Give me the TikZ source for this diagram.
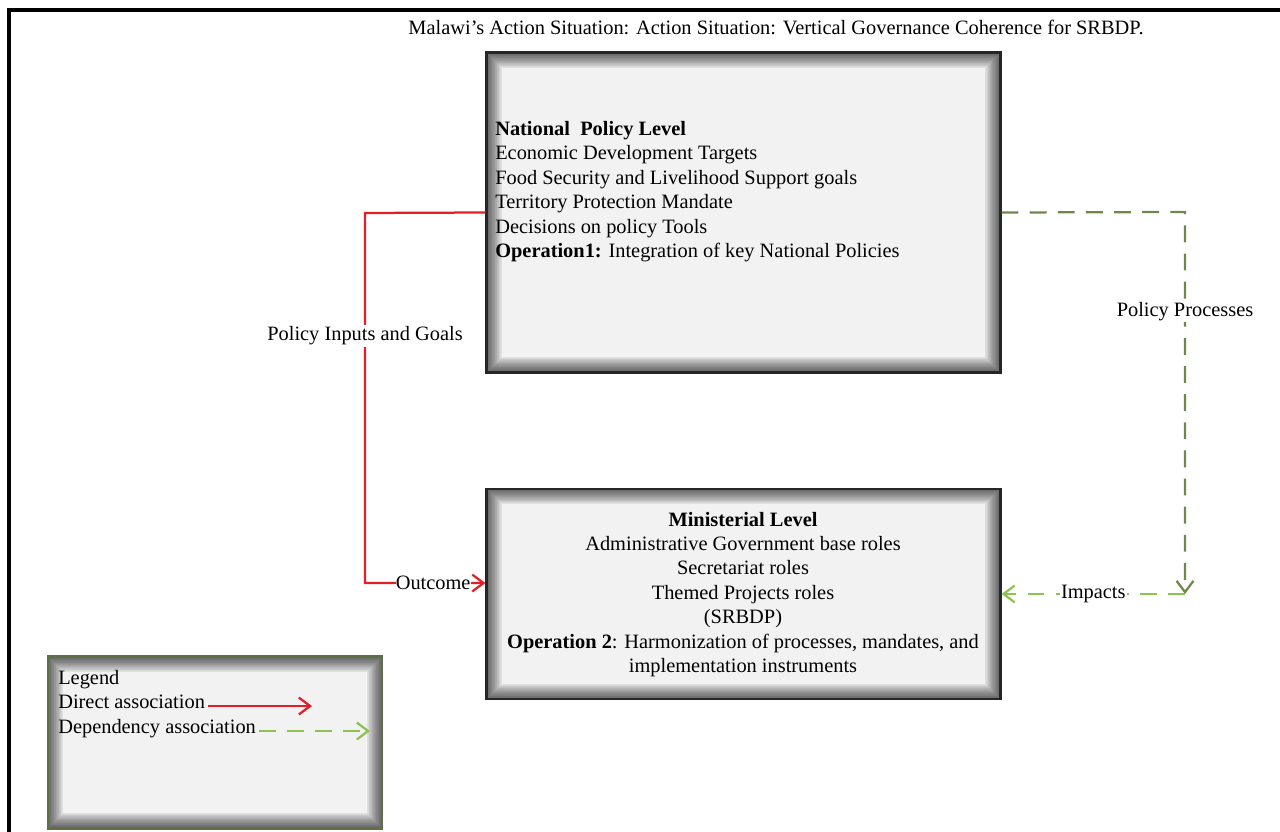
\documentclass[tikz,border=0pt]{standalone}
\usepackage{fontspec}
\setmainfont{Liberation Serif}
\usetikzlibrary{arrows.meta, positioning, calc}
\definecolor{redLine}{HTML}{E41E26}
\definecolor{darkDep}{HTML}{6E874B}
\definecolor{lightDep}{HTML}{8CC350}
\definecolor{legBorder}{HTML}{5E6E45}
\definecolor{boxFill}{HTML}{F2F2F2}

\begin{document}
\begin{tikzpicture}[x=0.025cm, y=-0.025cm,
    every node/.style={font=\fontsize{14.5}{17.4}\selectfont},
    caja/.style={draw=black!85, line width=2pt, fill=boxFill, inner sep=0pt,
                 minimum width=12.83cm,
                 path picture={
                   \foreach \w in {22,21,...,1}
                     \draw[line width=\w pt, black, opacity=0.035]
                       (path picture bounding box.south west) rectangle
                       (path picture bounding box.north east);}},
    txt/.style={inner sep=0pt, align=left},
    lbl/.style={fill=white, inner sep=1pt, text=black},
    direct/.style={-{Straight Barb[length=8pt, width=12pt]}, line width=1.6pt, color=redLine},
    dep/.style={-{Straight Barb[length=8pt, width=12pt]}, line width=1.6pt,
                dash pattern=on 12pt off 8pt}]
    \useasboundingbox (0,0) rectangle (1280,832);
    \draw[line width=2.2pt] (9,832) -- (9,10) -- (1280,10);
    \node (tit) at (776,27) {Malawi’s Action Situation: Action Situation: Vertical Governance Coherence for SRBDP.};
    % levels
    \node[caja, minimum height=7.98cm] (nat) at (743.5,212.5) {};
    \node[txt, anchor=north west] (natTxt) at (495,121)
      {\textbf{National\ \ Policy Level}\\Economic Development Targets\\
       Food Security and Livelihood Support goals\\Territory Protection Mandate\\
       Decisions on policy Tools\\\textbf{Operation1:} Integration of key National Policies};
    \node[caja, minimum height=5.25cm] (min) at (743.5,594) {};
    \node[txt, align=center] (minTxt) at (743,594.5)
      {\textbf{Ministerial Level}\\Administrative Government base roles\\Secretariat roles\\
       Themed Projects roles\\(SRBDP)\\
       \textbf{Operation 2}: Harmonization of processes, mandates, and\\implementation instruments};
    % legend
    \node[caja, draw=legBorder, minimum width=8.35cm, minimum height=4.28cm] (leg) at (215,742.5) {};
    \node[txt, anchor=base west] (legTit) at (58,684) {Legend};
    \node[txt, anchor=base west] (legDir) at (58,708) {Direct association};
    \node[txt, anchor=base west] (legDep) at (58,733) {Dependency association};
    \coordinate (dirEnd) at (312,706);
    \coordinate (depEnd) at (370,731);
    \draw[direct] ([xshift=2pt]legDir.east |- dirEnd) -- (dirEnd);
    \draw[dep, lightDep] ([xshift=2pt]legDep.east |- depEnd) -- (depEnd);
    % connectors
    \coordinate (rc) at (365,213);
    \coordinate (gc) at (1185,212);
    \draw[direct] (nat.west) -- (rc) |- node[lbl, pos=0.166]{Policy Inputs and Goals}
      node[lbl, pos=0.783, inner sep=0pt]{Outcome} ([yshift=7.8pt]min.west);
    \draw[dep, darkDep] (nat.east) -- (gc) -- node[lbl, pos=0.26]{Policy Processes} (gc |- min.east);
    \draw[dep, lightDep] (gc |- min.east) -- node[lbl]{Impacts} (min.east);
\end{tikzpicture}
\end{document}
